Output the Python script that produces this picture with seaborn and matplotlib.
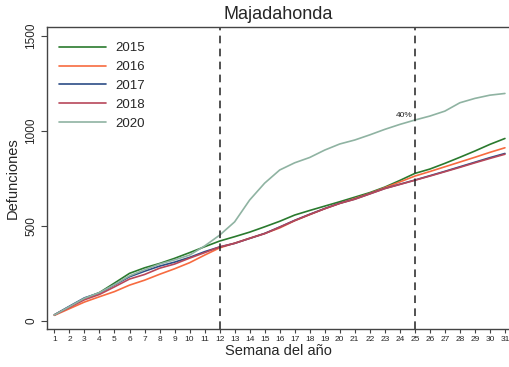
import pandas as pd
import numpy as np
import seaborn as sns
import matplotlib.pyplot as plt

weeks = list(range(1, 32))
years = ['2015', '2016', '2017', '2018', '2020']

d2015 = [32, 75, 118, 150, 200, 251, 280, 303, 330, 360, 391, 421, 444, 468, 496, 525,
         558, 582, 605, 628, 652, 676, 705, 740, 777, 800, 830, 862, 895, 930, 961]
d2016 = [30, 65, 100, 128, 155, 189, 215, 246, 275, 307, 347, 385, 410, 436, 461, 490,
         528, 560, 592, 620, 645, 672, 702, 732, 763, 787, 812, 837, 862, 888, 912]
d2017 = [33, 78, 122, 148, 190, 233, 262, 289, 310, 335, 365, 390, 409, 435, 461, 495,
         530, 562, 592, 620, 642, 670, 698, 720, 742, 765, 788, 812, 836, 860, 882]
d2018 = [32, 72, 112, 140, 180, 221, 245, 278, 300, 331, 360, 390, 409, 435, 460, 494,
         529, 561, 591, 619, 641, 669, 697, 719, 741, 763, 786, 809, 833, 856, 878]
d2020 = [32, 76, 120, 150, 192, 238, 270, 300, 322, 347, 395, 452, 522, 637, 726, 795,
         833, 861, 900, 932, 953, 980, 1009, 1035, 1058, 1079, 1105, 1149, 1172, 1189, 1198]

colors = {'2015': '#2a7a2e', '2016': '#f76b40', '2017': '#2c4d86',
          '2018': '#b8475a', '2020': '#8fb3a2'}

df = pd.DataFrame({'semana': weeks * 5,
                   'year': np.repeat(years, len(weeks)),
                   'defunciones': d2015 + d2016 + d2017 + d2018 + d2020})

sns.set_style('white')
plt.rcParams['font.family'] = ['Liberation Sans', 'DejaVu Sans']

fig = plt.figure(figsize=(5.1, 3.67), dpi=100)
ax = fig.add_axes([0.092, 0.1035, 0.906, 0.8225])

sns.lineplot(data=df, x='semana', y='defunciones', hue='year', palette=colors,
             linewidth=1.2, ax=ax)

ax.axvline(12, color='#222222', linestyle=(0, (5, 3.5)), linewidth=1.1)
ax.axvline(25, color='#222222', linestyle=(0, (5, 3.5)), linewidth=1.1)
ax.text(24.85, 1082, '40%', ha='right', va='center', fontsize=6, color='#222222')

ax.set_xlim(0.5, 31.27)
ax.set_ylim(-42, 1547)
ax.set_xticks(weeks)
ax.set_yticks([0, 500, 1000, 1500])
ax.tick_params(axis='x', labelsize=6, length=3, direction='out', color='#444444', pad=2)
ax.tick_params(axis='y', labelsize=8.5, length=4, direction='out', color='#444444', pad=3,
               labelrotation=90)
for lab in ax.get_yticklabels():
    lab.set_va('center')
ax.xaxis.set_ticks_position('bottom')
ax.yaxis.set_ticks_position('left')
for s in ['left', 'bottom', 'top']:
    ax.spines[s].set_color('#444444')
    ax.spines[s].set_linewidth(1.0)
ax.spines['right'].set_visible(False)

ax.set_xlabel('Semana del año', fontsize=10.5, labelpad=1)
ax.set_ylabel('Defunciones', fontsize=10.5, labelpad=4)
ax.set_title('Majadahonda', fontsize=13, pad=6)

ax.legend(title=None, frameon=False, loc='upper left', bbox_to_anchor=(0.0, 0.99),
          fontsize=9.5, handlelength=3.6, labelspacing=0.5, handletextpad=0.7)

fig.savefig('out.png', dpi=100)
